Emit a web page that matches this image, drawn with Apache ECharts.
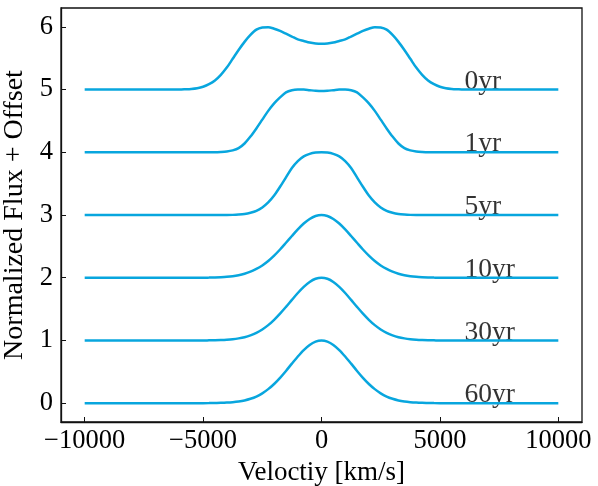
<!DOCTYPE html>
<html>
<head>
<meta charset="utf-8">
<script src="https://cdn.jsdelivr.net/npm/echarts@6/dist/echarts.min.js"></script>
<style>html,body{margin:0;padding:0;background:#fff}#c{width:598px;height:486px}</style>
</head>
<body>
<div id="c"></div>
<script>
// Velocity grid (km/s)
var velocities = [-10000,
  -6000,-5750,-5500,-5250,-5000,-4750,-4500,-4250,-4000,-3750,-3500,-3250,-3000,-2750,-2500,-2250,-2000,-1750,-1500,-1250,-1000,-750,-500,-250,
  0,
  250,500,750,1000,1250,1500,1750,2000,2250,2500,2750,3000,3250,3500,3750,4000,4250,4500,4750,5000,5250,5500,5750,6000,
  10000];
// Normalized profiles (before offset)
var prof0yr = [0,
  0,0.004,0.01,0.022,0.045,0.085,0.145,0.235,0.35,0.49,0.63,0.76,0.87,0.955,0.99,0.995,0.97,0.935,0.89,0.845,0.80,0.775,0.75,0.735,
  0.73,
  0.735,0.75,0.775,0.80,0.845,0.89,0.935,0.97,0.995,0.99,0.955,0.87,0.76,0.63,0.49,0.35,0.235,0.145,0.085,0.045,0.022,0.01,0.004,0,
  0];
var prof1yr = [0,
  0,0,0,0,0,0,0,0.004,0.012,0.03,0.065,0.14,0.25,0.38,0.52,0.66,0.78,0.875,0.955,0.99,1.0,1.0,0.99,0.98,
  0.975,
  0.98,0.99,1.0,1.0,0.99,0.955,0.875,0.78,0.66,0.52,0.38,0.25,0.14,0.065,0.03,0.012,0.004,0,0,0,0,0,0,0,
  0];
var prof5yr = [0,
  0,0,0,0,0,0,0,0,0,0.002,0.007,0.016,0.035,0.065,0.12,0.20,0.31,0.45,0.60,0.75,0.86,0.935,0.975,0.995,
  1.0,
  0.995,0.975,0.935,0.86,0.75,0.60,0.45,0.31,0.20,0.12,0.065,0.035,0.016,0.007,0.002,0,0,0,0,0,0,0,0,0,
  0];
var prof10yr = [0,
  0,0,0,0,0,0.002,0.005,0.009,0.015,0.025,0.041,0.064,0.096,0.14,0.196,0.267,0.353,0.45,0.557,0.665,0.77,0.864,0.937,0.984,
  1.0,
  0.984,0.937,0.864,0.77,0.665,0.557,0.45,0.353,0.267,0.196,0.14,0.096,0.064,0.041,0.025,0.015,0.009,0.005,0.002,0,0,0,0,0,
  0];
var prof30yr = [0,
  0,0,0,0,0,0.002,0.004,0.007,0.012,0.02,0.033,0.052,0.081,0.121,0.175,0.244,0.329,0.427,0.535,0.647,0.757,0.855,0.933,0.983,
  1.0,
  0.983,0.933,0.855,0.757,0.647,0.535,0.427,0.329,0.244,0.175,0.121,0.081,0.052,0.033,0.02,0.012,0.007,0.004,0.002,0,0,0,0,0,
  0];
var prof60yr = [0,
  0,0,0,0,0,0.001,0.003,0.005,0.009,0.016,0.027,0.044,0.07,0.106,0.157,0.224,0.306,0.404,0.514,0.631,0.744,0.847,0.929,0.982,
  1.0,
  0.982,0.929,0.847,0.744,0.631,0.514,0.404,0.306,0.224,0.157,0.106,0.07,0.044,0.027,0.016,0.009,0.005,0.003,0.001,0,0,0,0,0,
  0];
var epochLabels = ['0yr','1yr','5yr','10yr','30yr','60yr'];
var offsets = [5,4,3,2,1,0];
var labelVelocity = 6000;
var xTicks = [-10000,-5000,0,5000,10000];
var yTicks = [0,1,2,3,4,5,6];

var profiles = [prof0yr, prof1yr, prof5yr, prof10yr, prof30yr, prof60yr];
var color = '#08a6de';
var font = 'Liberation Serif';

var series = [];
profiles.forEach(function(p, i){
  series.push({
    type: 'line', smooth: 0.3, showSymbol: false, silent: true,
    lineStyle: {color: color, width: 2.5},
    data: velocities.map(function(v, k){ return [v, offsets[i] + p[k]]; })
  });
});
series.push({
  type: 'scatter', symbolSize: 0, silent: true,
  data: epochLabels.map(function(t, i){ return {value: [labelVelocity, offsets[i]], name: t}; }),
  label: {show: true, position: [0, 0], align: 'left', verticalAlign: 'bottom', offset: [1, 6],
    formatter: function(p){ return p.name; }, fontFamily: font, fontSize: 27.5, color: '#000'}
});

var chart = echarts.init(document.getElementById('c'), null, {renderer: 'canvas'});
chart.setOption({
  animation: false,
  backgroundColor: '#fff',
  grid: {left: 61, right: 16, top: 8, bottom: 64, outerBoundsMode: 'none', containLabel: false,
    show: true, borderColor: '#111', borderWidth: 1.3, backgroundColor: 'transparent'},
  xAxis: {
    type: 'value', min: -11000, max: 11000,
    name: 'Veloctiy [km/s]', nameLocation: 'middle', nameGap: 36,
    nameTextStyle: {fontFamily: font, fontSize: 27, color: '#000'},
    axisLine: {show: true, onZero: false, lineStyle: {color: '#111', width: 1.3}},
    axisTick: {show: true, inside: true, length: 5, customValues: xTicks, lineStyle: {color: '#111'}},
    axisLabel: {customValues: xTicks, margin: 6, fontFamily: font, fontSize: 26.5, color: '#000',
      formatter: function(v){ return v < 0 ? '\u2212' + Math.abs(v) : String(v); }},
    splitLine: {show: false}
  },
  yAxis: {
    type: 'value', min: -0.3, max: 6.3,
    name: 'Normalized Flux + Offset', nameLocation: 'middle', nameGap: 25, nameRotate: 90,
    nameTextStyle: {fontFamily: font, fontSize: 28, color: '#000'},
    axisLine: {show: true, onZero: false, lineStyle: {color: '#111', width: 1.3}},
    axisTick: {show: true, inside: true, length: 5, customValues: yTicks, lineStyle: {color: '#111'}},
    axisLabel: {customValues: yTicks, margin: 8, fontFamily: font, fontSize: 26.5, color: '#000'},
    splitLine: {show: false}
  },
  series: series
});
</script>
</body>
</html>
